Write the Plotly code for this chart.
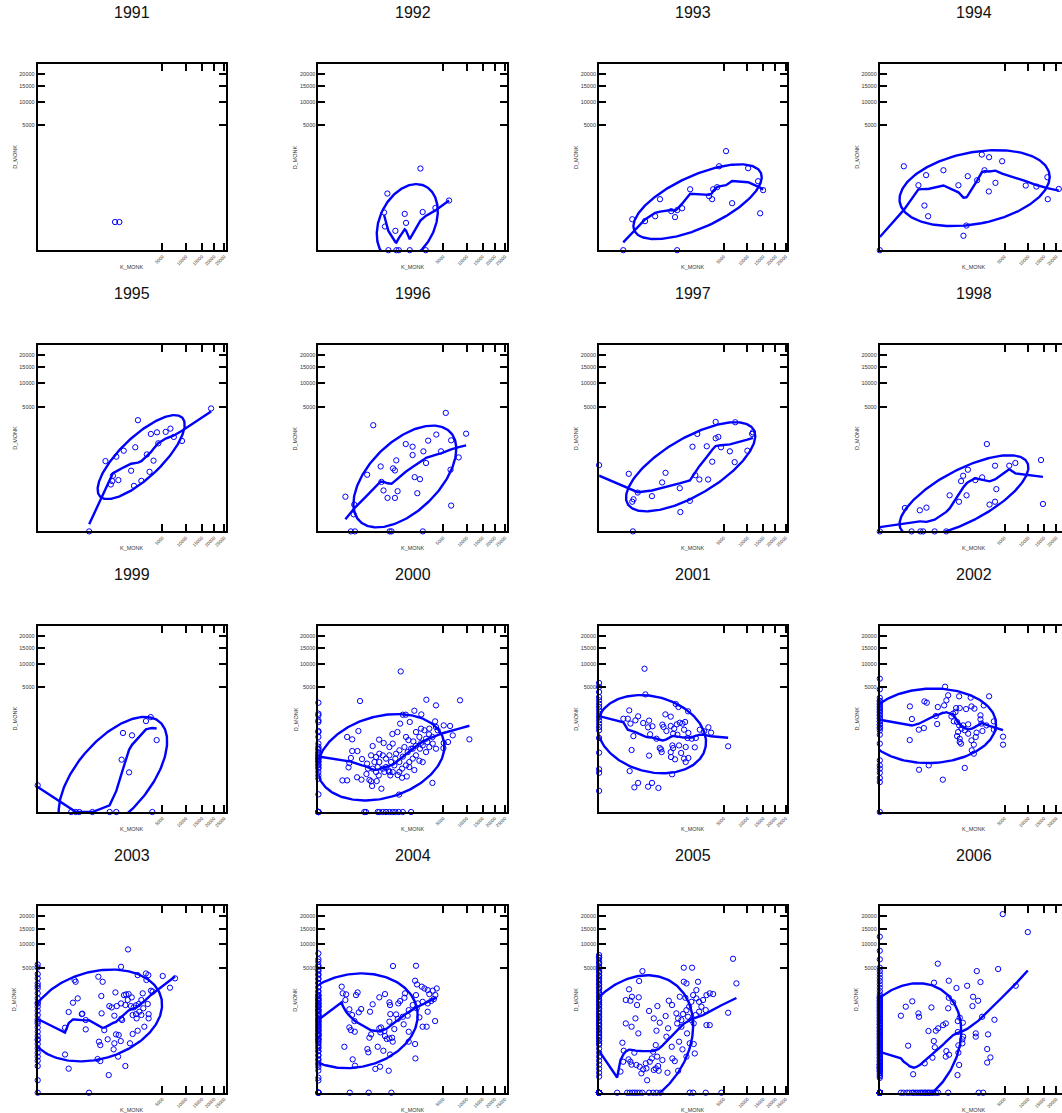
import numpy as np
import plotly.graph_objects as go

# ---------------- data (K_MONK, D_MONK) ----------------
years = list(range(1991, 2007))

k_1991 = [740, 920]
d_1991 = [13, 13]

k_1992 = [2240, 468, 385, 1147, 2443, 3875, 6024, 406, 1220, 726, 496, 765, 863, 1440, 2748]
d_1992 = [920, 213, 42, 36, 44, 66, 126, 6.5, 11.5, 2.9, 0, 0, 0, 0, 0]

k_1993 = [5369, 4284, 10201, 1421, 3497, 4015, 3031, 13206, 6474, 285, 14964, 983, 766, 558, 204, 92, 25, 687, 3372, 13910, 766, 7]
d_1993 = [1991, 1026, 935, 285, 285, 326, 176, 468, 101, 140, 269, 64, 53, 48, 27.5, 14.8, 19, 24.7, 140, 38.4, 0, 0]

k_1994 = [0, 6.9, 46, 95, 82, 113, 339, 789, 1237, 1163, 1012, 1852, 2240, 2484, 2950, 2918, 3702, 4632, 9375, 12436, 16305, 16478, 21223]
d_1994 = [0, 1026, 368, 656, 82, 27.5, 844, 368, 620, 7.6, 0.9, 496, 1731, 844, 1545, 246, 425, 1296, 361, 339, 586, 140, 291]

k_1995 = [145, 2088, 436, 789, 1132, 1874, 2934, 3389, 4179, 5547, 6416, 7102, 4369, 8963, 3720, 1575, 661, 640, 876, 591, 1774, 2387, 3232, 18676]
d_1995 = [0, 3164, 505, 645, 876, 1034, 726, 1864, 1991, 2027, 2306, 1646, 1245, 1385, 518, 280, 198, 132, 143, 100, 89, 135, 261, 4723]

k_1996 = [23, 37, 531, 591, 2456, 11, 34, 32, 117, 187, 311, 326, 371, 472, 640, 709, 709, 760, 813,
          1204, 1626, 1626, 1774, 1979, 2202, 2513, 2778, 2999, 3995, 4677, 5445, 6416, 6302, 6416, 8008, 9841]
d_1996 = [0, 0, 0, 0, 0, 30, 10.7, 1.75, 213, 2628, 368, 124, 58, 26, 326, 285, 26, 526, 54,
          1204, 1063, 703, 179, 44, 154, 850, 452, 1403, 1818, 850, 4076, 1421, 299, 9.2, 620, 1886]

k_1997 = [0, 16, 29, 25, 46, 27, 161, 326, 403, 876, 902, 1403, 1575, 1774, 2088, 1921, 2778, 2918, 3389,
          3817, 4179, 3817, 4566, 6052, 6979, 7102, 10000, 11343, 11564]
d_1997 = [399, 227, 22, 16, 47, 0, 32, 119, 243, 72, 2.9, 18, 1063, 206, 150, 1864, 1085, 150, 488,
          1555, 1646, 2966, 1034, 850, 476, 2934, 876, 1864, 1991]

k_1998 = [0, 21, 56, 73, 187, 403, 8.2, 53, 98, 492, 813, 902, 998, 1171, 1245, 1720, 2267, 2717, 2999,
          3645, 3817, 3645, 5808, 6979, 13961, 14641]
d_1998 = [0, 0, 0, 0, 0, 0, 6.2, 4.1, 6.6, 35, 16, 132, 198, 35, 299, 143, 176, 1204, 10.7,
          385, 66, 16, 385, 452, 535, 11.7]

k_1999 = [0, 26, 43, 62, 185, 553, 789, 3570, 1026, 1440, 1093, 1636, 2840, 3372, 4137]
d_1999 = [10.5, 0, 0, 0, 0, 0, 0, 0, 155, 51, 807, 714, 1412, 1678, 553]

# 2000  (d_*_k0: D_MONK of firms with K_MONK = 0; k_*_d0: K_MONK of firms with D_MONK = 0)
d_2000_k0 = [2950, 1932, 1807, 1459, 1357, 889, 844, 656, 452, 332, 251, 213, 168, 129, 98, 73, 53, 37, 25.6, 2, 0,
             81, 105, 134, 150, 168, 187, 209, 256, 311, 375, 0, 0, 0, 0]
k_2000_d0 = [92, 106, 256, 285, 355, 432, 526, 630, 726, 863, 1048, 1526]
k_2000 = [949, 62, 2809, 3955, 8318, 1048, 1204, 1752, 2320, 1440,
          922, 3836, 5098, 6218, 6738, 5835, 5098, 5050, 10740, 3497,
          876, 326, 53, 14, 27, 27, 48, 23, 19, 17,
          6.9, 14, 75, 116, 126, 46, 71, 140, 159, 239,
          172, 274, 110, 179, 280, 375, 620, 807, 1357, 1678,
          1875, 2320, 2918, 3097, 3497, 2778, 2442, 2151, 1752, 1262,
          1012, 819, 553, 496, 687, 889, 1048, 1313, 1526, 1132,
          889, 526, 432, 355, 285, 204, 229, 526, 630, 754,
          726, 576, 432, 355, 256, 179, 392, 526, 1012, 1220,
          1412, 1636, 1875, 2202, 2442, 1636, 1875, 2293, 2614, 3131,
          3955, 4179, 2778, 2151, 1220, 285, 159, 3131, 3534, 3955,
          1412, 889, 630, 229]
d_2000 = [8077, 3130, 3284, 2672, 3215, 1852, 1852, 2176, 1875, 1357,
          1262, 1394, 1163, 1132, 714, 496, 468, 345, 576, 14.8,
          1.9, 6.1, 889, 656, 576, 285, 285, 176, 119, 82,
          20.6, 20.6, 162, 113, 73, 30, 22.6, 21.8, 18.4, 19,
          9.4, 37, 43, 392, 567, 468, 765, 844, 553, 513,
          399, 476, 496, 754, 656, 266, 129, 143, 64, 33,
          28.5, 38.4, 37, 62, 98, 129, 194, 266, 332, 368,
          299, 213, 168, 213, 129, 129, 189, 368, 452, 239,
          168, 129, 84, 73, 84, 73, 53, 53, 73, 98,
          129, 168, 213, 332, 406, 332, 844, 998, 922, 998,
          1078, 922, 596, 656, 656, 239, 213, 368, 452, 332,
          84, 53, 53, 53]

# 2001
d_2001_k0 = [5729, 5050, 4284, 3608, 3215, 2840, 2513, 2202, 1932, 1678, 1459, 1262, 1078, 922, 620, 256, 69, 49, 4.1]
k_2001_d0 = []
k_2001 = [88, 95, 17, 7.2, 14, 48, 36, 20, 78, 129,
          119, 168, 140, 28.5, 224, 399, 544, 714, 819, 1296,
          332, 355, 425, 544, 656, 754, 876, 998, 1132, 620,
          777, 1078, 1313, 1262, 1526, 1807, 2125, 2513, 2950, 3249,
          5729, 280, 305, 317, 596, 620, 544, 553, 687, 844,
          935, 1078, 1163, 1313, 1163, 1731, 23, 129, 18, 48,
          32, 119, 162, 256, 586]
d_2001 = [8707, 3955, 2202, 1565, 1565, 1731, 1459, 1262, 1296, 1440,
          1063, 1116, 754, 687, 596, 1875, 1709, 2809, 2513, 2125,
          1204, 1078, 889, 1132, 998, 1220, 1313, 1262, 1357, 777,
          737, 949, 807, 620, 596, 620, 949, 876, 1063, 819,
          385, 345, 317, 266, 406, 345, 266, 189, 159, 406,
          251, 168, 129, 176, 368, 361, 305, 209, 58, 14.8,
          7.6, 8.5, 14.8, 6.9, 41.6]

# 2002
d_2002_k0 = [6532, 4677, 3097, 2748, 2414, 2125, 1852, 1616, 1394, 1204, 1026, 737, 452, 147, 98, 73, 49, 27.5, 16.6, 0,
             3515, 3164, 2840, 2541, 2267, 2015, 1785, 1575, 1385, 1212, 1056, 915]
k_2002_d0 = []
k_2002 = [375, 452, 819, 1412, 2950, 82, 101, 17, 234, 355,
          406, 703, 844, 1147, 1459, 1657, 2414, 596, 677, 204,
          22, 224, 48, 78, 16.6, 544, 620, 737, 819, 922,
          998, 1262, 777, 1078, 1262, 737, 844, 844, 902, 1459,
          1616, 1752, 1807, 2125, 2125, 2202, 2293, 2672, 3497, 3497,
          4769, 4769, 1478, 1616, 1078, 326, 119, 49]
d_2002 = [5098, 3836, 3702, 3534, 3702, 3097, 2950, 2570, 2513, 2672,
          3215, 2414, 2414, 2320, 2570, 2360, 2672, 1932, 2064, 1752,
          1545, 1237, 949, 1026, 553, 1731, 1394, 1357, 1163, 998,
          1163, 1220, 844, 922, 777, 687, 596, 496, 452, 544,
          425, 656, 819, 1807, 1526, 1262, 889, 1163, 1394, 949,
          666, 425, 299, 239, 78, 22.6, 98, 66]

# 2003
d_2003_k0 = [5598, 5098, 4096, 3534, 2950, 2442, 2015, 1636, 1357, 1132, 935, 754, 596, 476, 375, 285, 213,
             159, 116, 80, 53, 35, 21.8, 10.5, 0.5, 0,
             2687, 1296, 531, 168]
k_2003_d0 = [143]
k_2003 = [1376, 998, 38, 43, 280, 368, 2064, 2840, 3097, 2887,
          5050, 7352, 6330, 53, 32, 19, 82, 110, 11.5, 110,
          11.5, 19, 339, 345, 406, 754, 544, 620, 807, 998,
          1147, 1262, 1412, 1616, 1357, 1220, 1565, 1752, 1932, 2151,
          2387, 2513, 3031, 2570, 2202, 1932, 1678, 2387, 1979, 3131,
          3131, 3407, 3608, 2672, 2064, 1678, 1497, 1012, 1048, 714,
          777, 889, 983, 714, 687, 863, 496, 291, 317, 266,
          317, 526, 1220, 78]
d_2003 = [8707, 5196, 3336, 3130, 3740, 3130, 3955, 4179, 3955, 3336,
          3836, 3534, 2513, 1636, 1357, 876, 807, 576, 368, 332,
          44, 6.9, 1807, 819, 317, 2088, 1163, 1093, 1163, 1313,
          1875, 1932, 1955, 1709, 1526, 1220, 1163, 1093, 1204, 1279,
          1526, 2015, 1279, 1048, 889, 789, 754, 754, 630, 789,
          630, 2240, 2151, 392, 305, 246, 123, 620, 576, 726,
          239, 229, 147, 123, 73, 35, 168, 140, 106, 26.6,
          20.6, 2, 10.5, 789]

# 2004
d_2004_k0 = [7775, 6079, 5196, 4521, 3955, 3443, 2983, 2570, 2202, 1875, 1585, 1331, 1116, 922, 754, 610, 488,
             385, 299, 229, 172, 126, 90, 62, 41.6, 26.6, 16, 9, 1.04, 0.47, 0,
             6561, 5470, 4746, 4096, 3515, 2999, 2541, 2138, 1897, 1678, 1478, 1296, 1132, 983, 850, 731,
             625, 531, 448, 375, 311, 256, 209, 168, 134, 105, 81, 61, 39, 23, 13, 5, 0, 0, 0, 0,
             150, 168, 209, 231, 256, 311, 342, 410, 448, 531, 576, 625, 731, 789, 915, 983, 1132, 1212,
             1296, 1478, 1575, 1785]
k_2004_d0 = [20, 132, 586]
k_2004 = [640, 1875, 1807, 1955, 2360, 2614, 2950, 3131, 3534, 4055,
          3875, 3664, 3336, 2950, 2442, 2015, 1636, 1932, 1875, 1163,
          1132, 922, 844, 526, 544, 406, 285, 179, 147, 69,
          49, 41.6, 12.2, 6.1, 7.2, 11, 19, 26.6, 55, 35,
          19, 23, 36, 9.4, 28.5, 37, 217, 299, 505, 129,
          119, 140, 159, 256, 368, 544, 285, 317, 392, 305,
          406, 452, 526, 630, 610, 687, 526, 553, 754, 819,
          1048, 1093, 1313, 1376, 1376, 1807, 1830, 2151, 2442, 2840,
          2950, 3836, 1376]
d_2004 = [5319, 5369, 3249, 2840, 2614, 2442, 2293, 1955, 2240, 2442,
          1875, 1585, 1459, 1313, 1412, 1313, 1220, 1048, 1875, 2015,
          1678, 1459, 1313, 1376, 1220, 1955, 1709, 1262, 889, 1012,
          2088, 1875, 1932, 2614, 2015, 1526, 998, 754, 863, 544,
          375, 317, 285, 92, 25.6, 11, 6.6, 9.4, 4.8, 55,
          75, 189, 239, 92, 64, 44, 355, 375, 299, 274,
          213, 172, 179, 140, 189, 339, 526, 789, 777, 610,
          687, 452, 726, 285, 140, 116, 28.5, 666, 392, 392,
          889, 544, 962]

# 2005
d_2005_k0 = [7417, 6918, 5889, 5050, 4434, 3836, 3336, 2887, 2442, 2088, 1752, 1478, 1237, 1026, 844, 687, 553,
             440, 345, 266, 204, 152, 110, 78, 53, 35, 21.8, 12.8, 6.9, 3.3, 1.4, 0,
             6857, 6274, 5729, 5220, 4746, 4305, 3895, 3515, 3164, 2840, 2541, 2267, 2015, 1785, 1575,
             1385, 1212, 1056, 915, 789, 677, 576, 488, 410, 342, 283, 231, 187, 150, 119,
             0, 0, 0, 0, 0, 0, 0, 0, 0, 0, 0, 0, 0, 0, 0, 0, 0, 0, 0, 0, 0, 0, 0, 0, 0,
             0, 0, 0, 0, 0, 0, 0, 0, 0, 0, 0, 0, 0, 0, 0, 0, 0, 0, 0, 0, 0, 0, 0, 0, 0,
             0, 0, 0, 0, 0]
k_2005_d0 = [2.2, 12.8, 18.4, 25.6, 33, 43, 56, 73, 129, 176, 224, 291, 1394, 1616, 2672, 4632]
k_2005 = [73, 1063, 1545, 6650, 53, 16.6, 10.5, 19.8, 24, 43,
          51, 10.5, 23, 36, 49, 6.1, 7.6, 4.3, 6.9, 15.4,
          19.8, 32, 23, 40, 56, 66, 78, 98, 104, 110,
          137, 159, 176, 213, 234, 213, 185, 332, 251, 452,
          677, 129, 185, 239, 224, 280, 406, 468, 488, 586,
          737, 807, 425, 576, 844, 949, 949, 766, 876, 1147,
          1063, 1204, 1979, 1852, 1616, 1497, 1357, 1204, 1026, 1296,
          1497, 1657, 1807, 2064, 2267, 2064, 1852, 2414, 2748, 3097,
          3497, 2672, 3097, 2748, 5729, 7352, 998, 1204, 1394, 1657,
          1731, 1237, 596, 807, 261]
d_2005 = [4521, 5050, 5050, 6650, 3215, 2360, 1526, 1478, 1752, 1220,
          1709, 476, 392, 630, 256, 129, 64, 4.1, 19, 25.6,
          19, 53, 12.8, 12.2, 9.4, 2.9, 6.1, 15.4, 7.2, 0.5,
          19, 28.5, 58, 106, 35, 7.2, 5.5, 23.4, 10.5, 3.3,
          20.6, 922, 630, 1163, 305, 496, 714, 355, 1478, 1220,
          819, 630, 204, 92, 140, 576, 392, 476, 1752, 1678,
          3130, 2950, 3130, 2293, 1875, 1412, 1132, 962, 789, 687,
          576, 476, 754, 889, 1132, 1412, 1636, 1526, 1875, 2015,
          1955, 962, 432, 432, 844, 2950, 73, 35, 123, 116,
          49, 256, 28.5, 4.8, 4.8]

# 2006
d_2006_k0 = [12248, 8388, 6532, 5050, 4521, 4055, 3608, 3215, 2840, 2513, 2202, 1932, 1678, 1459, 1262, 1078,
             922, 777, 656, 544, 452, 368, 299, 239, 189, 147, 113, 84, 62, 44, 31, 20.6, 13.3, 8.2, 4.5, 0,
             1785, 1678, 1575, 1478, 1385, 1296, 1212, 1132, 1056, 983, 915, 850, 789, 731, 677, 625, 576,
             531, 488, 448, 410, 375, 342, 311, 283, 256, 231, 209, 187, 168, 150, 134, 119, 105, 92, 81,
             71, 61, 53, 46, 39, 33, 28, 23, 19, 16, 13, 10.5, 8.4, 6.6,
             0, 0, 0, 0, 0, 0, 0, 0, 0, 0, 0, 0, 0, 0, 0,
             0, 0, 0, 0, 0, 0, 0, 0, 0, 0, 0, 0, 0, 0, 0, 0, 0, 0, 0, 0, 0, 0, 0, 0, 0, 0, 0, 0, 0, 0,
             1, 1.5, 2.1, 3, 4.1, 5.1, 6.6, 8.4, 10.5, 13]
k_2006_d0 = [4.1, 11.5, 27.5, 35, 43, 62, 84, 106, 129, 168, 204, 239, 452, 1979, 2360,
             6.6, 16, 23, 53, 71, 92, 119, 150]
k_2006 = [4723, 9920, 234, 1830, 4055, 179, 468, 714, 1204, 2125,
          7071, 468, 596, 452, 147, 23, 9.4, 4.1, 46, 49,
          1565, 1932, 1526, 2267, 3570, 844, 766, 983, 392, 332,
          239, 204, 116, 766, 998, 962, 962, 1752, 1752, 2840,
          789, 789, 2748, 3097, 2748, 176, 189, 406, 392, 476,
          159, 84, 819, 754, 13.3, 25.6]
d_2006 = [21014, 13757, 5729, 4521, 4838, 3031, 3249, 2484, 2702, 3097,
          2702, 1678, 1376, 1048, 1093, 1440, 1132, 726, 819, 687,
          1752, 1478, 1163, 687, 586, 656, 544, 496, 476, 432,
          355, 305, 299, 280, 204, 168, 123, 256, 204, 239,
          104, 53, 75, 32, 17, 147, 88, 62, 35, 43,
          31, 15.4, 12.2, 2, 101, 2.4]

x_ticks = [5000, 10000, 15000, 20000, 25000]
y_ticks = [5000, 10000, 15000, 20000]
x_max, y_max = 26000, 25000

# loess smoothing span per year
span = {1992: 0.35, 1993: 0.35, 1994: 0.35, 1995: 0.5, 1996: 0.5, 1997: 0.4, 1998: 0.4, 1999: 0.45,
        2000: 0.35, 2001: 0.4, 2002: 0.35, 2003: 0.35, 2004: 0.3, 2005: 0.3, 2006: 0.3}
ROBUST_ITERS = 2

g = globals()


def panel_data(yr):
    k = list(g[f"k_{yr}"])
    d = list(g[f"d_{yr}"])
    d0 = g.get(f"d_{yr}_k0", [])
    k0 = g.get(f"k_{yr}_d0", [])
    k = [0.0] * len(d0) + list(k0) + k
    d = list(d0) + [0.0] * len(k0) + d
    n = min(len(k), len(d))
    return np.array(k[:n], float), np.array(d[:n], float)


def tr(v):
    # fourth-root axis scale
    return np.asarray(v, float) ** 0.25


def local_fit(x, y, rw, x0, r):
    dist = np.abs(x - x0)
    h = np.sort(dist)[r - 1]
    if h <= 1e-12:
        h = 1e-6
    u = np.clip(dist / (h * 1.0001), 0, 1)
    w = (1 - u ** 3) ** 3 * rw
    sw = w.sum()
    if sw <= 0:
        return np.nan
    mx = (w * x).sum() / sw
    my = (w * y).sum() / sw
    sxx = (w * (x - mx) ** 2).sum()
    b = (w * (x - mx) * (y - my)).sum() / sxx if sxx > 1e-12 else 0.0
    return my + b * (x0 - mx)


def lowess(x, y, frac, iters):
    n = len(x)
    r = min(max(int(np.ceil(frac * n)), 3), n)
    xs = np.unique(x)
    rw = np.ones(n)
    fit_u = None
    for it in range(iters + 1):
        fit_u = np.array([local_fit(x, y, rw, x0, r) for x0 in xs])
        if it == iters:
            break
        fitted = np.interp(x, xs, fit_u)
        res = y - fitted
        s = np.median(np.abs(res))
        if s <= 1e-12:
            break
        uu = res / (6 * s)
        rw = np.where(np.abs(uu) < 1, (1 - uu ** 2) ** 2, 0.0)
    return xs, fit_u


ELL_C = 1.55

W, H = 1062, 1113
col_left = [37.7, 318.4, 599.1, 879.8]
row_bottom = [250.2, 531.4, 812.0, 1092.7]
unit = 14.83
pw = tr(x_max) * unit
ph = tr(y_max) * unit

BLUE = "#0000ff"
FONT = "Liberation Sans, Arial, sans-serif"

fig = go.Figure()
annotations = []
layout = {}

for i, yr in enumerate(years):
    r, c = divmod(i, 4)
    L = col_left[c]
    B = row_bottom[r]
    R = min(L + pw, W)
    T = B - ph
    ax = "" if i == 0 else str(i + 1)
    xa, ya = "x" + ax, "y" + ax
    layout["xaxis" + ax] = dict(
        domain=[L / W, R / W], range=[0, (R - L) / unit], anchor=ya,
        tickvals=list(tr(x_ticks)), ticktext=[str(v) for v in x_ticks],
        tickangle=-45, tickfont=dict(size=4.5, color="#333", family=FONT),
        ticks="inside", ticklen=7, tickwidth=2, tickcolor="black",
        showline=True, linewidth=2, linecolor="black", mirror="ticks",
        showgrid=False, zeroline=False, fixedrange=True)
    layout["yaxis" + ax] = dict(
        domain=[1 - B / H, 1 - T / H], range=[0, tr(y_max)], anchor=xa,
        tickvals=list(tr(y_ticks)), ticktext=[str(v) for v in y_ticks],
        tickfont=dict(size=5.5, color="#333", family=FONT),
        ticks="inside", ticklen=7, tickwidth=2, tickcolor="black",
        showline=True, linewidth=2, linecolor="black",
        mirror="ticks" if c < 3 else False,
        showgrid=False, zeroline=False, fixedrange=True)

    k, d = panel_data(yr)
    tx, ty = tr(k), tr(d)
    if len(tx) >= 3:
        X = np.column_stack([tx, ty])
        mu = X.mean(axis=0)
        S = np.cov(X.T)
        vals, vecs = np.linalg.eigh(S)
        vals = np.clip(vals, 0, None)
        th = np.linspace(0, 2 * np.pi, 241)
        circ = np.vstack([np.cos(th), np.sin(th)])
        pts = (vecs @ (np.sqrt(vals)[:, None] * circ)) * ELL_C
        ex, ey = pts[0] + mu[0], pts[1] + mu[1]
        fig.add_trace(go.Scatter(x=ex, y=ey, mode="lines", xaxis=xa, yaxis=ya,
                                 line=dict(color=BLUE, width=2.4), hoverinfo="skip",
                                 showlegend=False))
        lx, ly = lowess(tx, ty, span.get(yr, 0.35), ROBUST_ITERS)
        fig.add_trace(go.Scatter(x=lx, y=ly, mode="lines", xaxis=xa, yaxis=ya,
                                 line=dict(color=BLUE, width=2.4), hoverinfo="skip",
                                 showlegend=False))

    fig.add_trace(go.Scatter(x=tx, y=ty, mode="markers", xaxis=xa, yaxis=ya,
                             marker=dict(symbol="circle-open", size=5.3, color=BLUE,
                                         line=dict(width=1, color=BLUE)),
                             cliponaxis=False, showlegend=False))

    cx = (L + L + pw) / 2
    annotations.append(dict(text=str(yr), x=cx / W, y=1 - (T - 51) / H, xref="paper", yref="paper",
                            showarrow=False, xanchor="center", yanchor="middle",
                            font=dict(size=16, color="#111", family=FONT)))
    annotations.append(dict(text="K_MONK", x=cx / W, y=1 - (B + 17) / H, xref="paper", yref="paper",
                            showarrow=False, xanchor="center", yanchor="middle",
                            font=dict(size=5.5, color="#333", family=FONT)))
    annotations.append(dict(text="D_MONK", x=(L - 23) / W, y=1 - (B - ph / 2) / H, xref="paper",
                            yref="paper", showarrow=False, xanchor="center", yanchor="middle",
                            textangle=-90, font=dict(size=5.5, color="#333", family=FONT)))

fig.update_layout(width=W, height=H, margin=dict(l=0, r=0, t=0, b=0),
                  paper_bgcolor="white", plot_bgcolor="white", showlegend=False,
                  annotations=annotations, **layout)

fig.write_html("out.html", include_plotlyjs=True, config={"displayModeBar": False})
